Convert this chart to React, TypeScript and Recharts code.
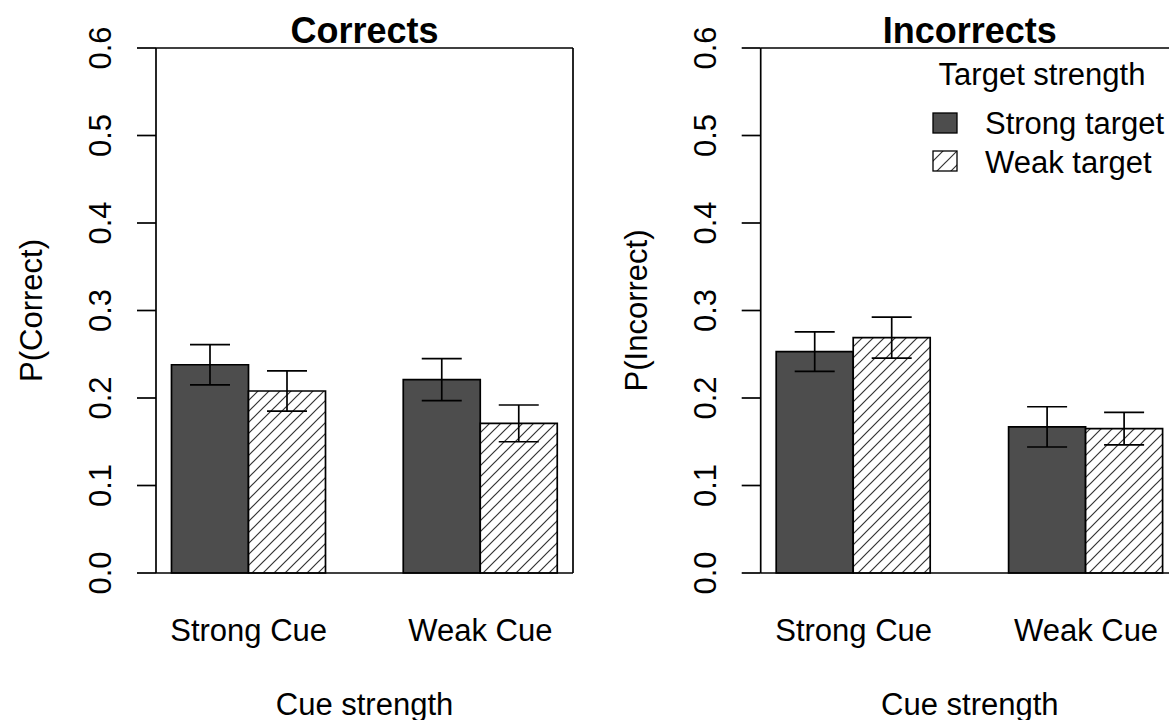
import React from "react";
import { BarChart, Bar, XAxis, YAxis, ErrorBar, Label, Legend } from "recharts";

const cues = ["Strong Cue", "Weak Cue"];
const yTicks = [0, 0.1, 0.2, 0.3, 0.4, 0.5, 0.6];

// P(Correct) by cue strength, one array per target strength
const correctStrong = [0.238, 0.221];
const correctWeak = [0.208, 0.171];
const correctStrongErr = [0.023, 0.024];
const correctWeakErr = [0.023, 0.021];

// P(Incorrect)
const incorrectStrong = [0.253, 0.167];
const incorrectWeak = [0.269, 0.165];
const incorrectStrongErr = [0.0225, 0.023];
const incorrectWeakErr = [0.0235, 0.0185];

const legendTitle = "Target strength";
const legendNames = ["Strong target", "Weak target"];

const FONT = "'Liberation Sans', Arial, Helvetica, sans-serif";
const DARK = "#4d4d4d";
const LW = 1.7;

const makeRows = (strong: number[], weak: number[], se1: number[], se2: number[]) =>
  cues.map((cue, i) => ({ cue, strong: strong[i], weak: weak[i], strongErr: se1[i], weakErr: se2[i] }));

const correctRows = makeRows(correctStrong, correctWeak, correctStrongErr, correctWeakErr);
const incorrectRows = makeRows(incorrectStrong, incorrectWeak, incorrectStrongErr, incorrectWeakErr);

const YTick = (props: any) => {
  const { x, y, payload } = props;
  return (
    <text transform={`translate(${x},${y}) rotate(-90)`} textAnchor="middle" fontSize={31} fontFamily={FONT} fill="#000">
      {Number(payload.value).toFixed(1)}
    </text>
  );
};

const XTick = (props: any) => {
  const { x, y, payload } = props;
  return (
    <text x={x} y={y} textAnchor="middle" fontSize={31} fontFamily={FONT} fill="#000">
      {payload.value}
    </text>
  );
};

const Hatch = ({ id, size }: { id: string; size: number }) => (
  <pattern id={id} patternUnits="userSpaceOnUse" width={size} height={size}>
    <rect width={size} height={size} fill="#fff" />
    <path
      d={`M0,${size} L${size},0 M${-size / 2},${size / 2} L${size / 2},${-size / 2} M${size / 2},${size * 1.5} L${size * 1.5},${size / 2}`}
      stroke="#333"
      strokeWidth={1.2}
    />
  </pattern>
);

const LegendBox = () => (
  <svg width={240} height={130} style={{ display: "block" }}>
    <defs>
      <Hatch id="hatch-legend" size={14} />
    </defs>
    <text x={110} y={35} textAnchor="middle" fontSize={31} fontFamily={FONT} fill="#000">
      {legendTitle}
    </text>
    {legendNames.map((name, i) => (
      <g key={name}>
        <rect
          x={1}
          y={63 + i * 38}
          width={24}
          height={20}
          fill={i === 0 ? DARK : "url(#hatch-legend)"}
          stroke="#000"
          strokeWidth={1.3}
        />
        <text x={53} y={84 + i * 39} fontSize={31} fontFamily={FONT} fill="#000">
          {name}
        </text>
      </g>
    ))}
  </svg>
);

type PanelProps = {
  rows: any[];
  title: string;
  yLabel: string;
  yAxisWidth: number;
  yLabelOffset: number;
  width: number;
  left: number;
  patternId: string;
  legend?: boolean;
};

const Panel = ({ rows, title, yLabel, yAxisWidth, yLabelOffset, width, left, patternId, legend }: PanelProps) => (
  <div style={{ position: "absolute", left, top: 0 }}>
    <BarChart
      width={width}
      height={720}
      data={rows}
      margin={{ top: 47, right: 10, bottom: 0, left: 0 }}
      barGap={0}
      barCategoryGap={38.75}
    >
      <defs>
        <Hatch id={patternId} size={11} />
      </defs>
      <XAxis
        dataKey="cue"
        height={147}
        padding={{ left: -23.25, right: -23.25 }}
        axisLine={{ stroke: "#000", strokeWidth: LW }}
        tickLine={false}
        tickSize={0}
        tickMargin={68}
        tick={<XTick />}
      >
        <Label value="Cue strength" position="insideBottom" offset={5} fontSize={31} fontFamily={FONT} fill="#000" />
      </XAxis>
      {/* top and right edges of the plot frame */}
      <XAxis
        xAxisId="top"
        orientation="top"
        dataKey="cue"
        height={1}
        tick={false}
        tickLine={false}
        axisLine={{ stroke: "#000", strokeWidth: LW }}
      >
        <Label value={title} position="top" offset={4} fontSize={36} fontWeight="bold" fontFamily={FONT} fill="#000" />
      </XAxis>
      <YAxis
        domain={[0, 0.6]}
        ticks={yTicks}
        width={yAxisWidth}
        axisLine={{ stroke: "#000", strokeWidth: LW }}
        tickLine={{ stroke: "#000", strokeWidth: LW }}
        tickSize={19}
        tickMargin={26}
        tick={<YTick />}
        interval={0}
      >
        <Label
          value={yLabel}
          angle={-90}
          position="insideLeft"
          offset={yLabelOffset}
          fontSize={31}
          fontFamily={FONT}
          fill="#000"
          style={{ textAnchor: "middle" }}
        />
      </YAxis>
      <YAxis
        yAxisId="right"
        orientation="right"
        domain={[0, 0.6]}
        width={1}
        tick={false}
        tickLine={false}
        axisLine={{ stroke: "#000", strokeWidth: LW }}
      />
      <Bar dataKey="strong" fill={DARK} stroke="#000" strokeWidth={LW} isAnimationActive={false}>
        <ErrorBar dataKey="strongErr" width={20} stroke="#000" strokeWidth={LW} isAnimationActive={false} />
      </Bar>
      <Bar dataKey="weak" fill={`url(#${patternId})`} stroke="#000" strokeWidth={LW} isAnimationActive={false}>
        <ErrorBar dataKey="weakErr" width={20} stroke="#000" strokeWidth={LW} isAnimationActive={false} />
      </Bar>
      {legend && (
        <Legend
          layout="horizontal"
          align="center"
          verticalAlign="middle"
          content={<LegendBox />}
          wrapperStyle={{ left: 348, top: 50, width: 240 }}
        />
      )}
    </BarChart>
  </div>
);

export default function App() {
  return (
    <div
      style={{
        position: "absolute",
        left: 0,
        top: 0,
        width: 1169,
        height: 720,
        overflow: "hidden",
        background: "#fff",
        fontFamily: FONT,
      }}
    >
      <Panel
        rows={correctRows}
        title="Corrects"
        yLabel="P(Correct)"
        yAxisWidth={156}
        yLabelOffset={31}
        width={584}
        left={0}
        patternId="hatch-correct"
      />
      <Panel
        rows={incorrectRows}
        title="Incorrects"
        yLabel="P(Incorrect)"
        yAxisWidth={176.7}
        yLabelOffset={52}
        width={606}
        left={584}
        patternId="hatch-incorrect"
        legend
      />
    </div>
  );
}
